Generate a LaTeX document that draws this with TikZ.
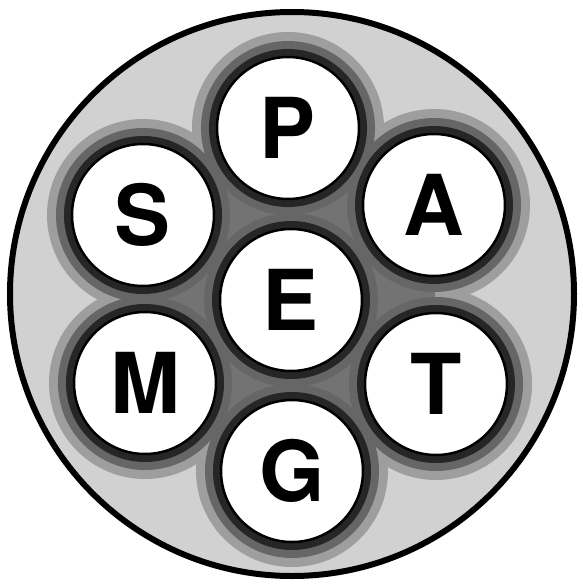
\documentclass[tikz,border=0pt]{standalone}
\usepackage{fontspec}
\setmainfont{TeX Gyre Heros}
\begin{document}
\begin{tikzpicture}[x=1pt,y=-1pt,
  disc/.style={circle,draw=black,line width=2.5pt,fill=white,minimum size=142pt,inner sep=0pt,
    font=\fontsize{84}{84}\selectfont\bfseries},
  halo/.style={fill=black!85},
  halo2/.style={fill=black!60},
  halo3/.style={fill=black!38}]
\useasboundingbox (0,0) rectangle (582,584);
\fill[white] (0,0) rectangle (582,584);
\coordinate (O) at (292,294);
\draw[line width=6pt,fill=black!18] (O) circle[radius=282];
% halos
\foreach \p in {(288,128),(143,215),(434,205),(291,300),(145,383),(436,384),(292,471)}{
  \fill[halo3] \p circle[radius=96];
}
\fill[black!55] (288,128) -- (434,205) -- (436,384) -- (292,471) -- (145,383) -- (143,215) -- cycle;
\foreach \p in {(288,128),(143,215),(434,205),(291,300),(145,383),(436,384),(292,471)}{
  \fill[halo2] \p circle[radius=87];
}
\foreach \p in {(288,128),(143,215),(434,205),(291,300),(145,383),(436,384),(292,471)}{
  \fill[halo] \p circle[radius=79];
}
\node[disc] (P) at (288,128) {P};
\node[disc] (S) at (143,215) {S};
\node[disc] (A) at (434,205) {A};
\node[disc] (E) at (291,300) {E};
\node[disc] (M) at (145,383) {M};
\node[disc] (T) at (436,384) {T};
\node[disc] (G) at (292,471) {G};
\end{tikzpicture}
\end{document}
